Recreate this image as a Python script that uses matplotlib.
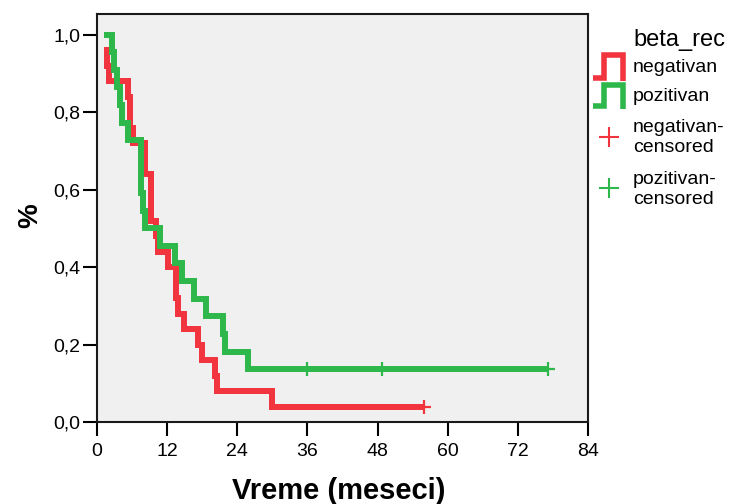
import matplotlib
matplotlib.use("Agg")
import matplotlib.pyplot as plt
from matplotlib.lines import Line2D

plt.rcParams['font.family'] = ['Liberation Sans', 'DejaVu Sans']

# Survival times in months for the two beta_rec groups
neg_events = [1.2, 1.65, 2.1, 5.35, 5.65, 5.65, 6.2, 8.2, 8.2, 9.2, 9.2, 9.2,
              10.1, 10.5, 12.2, 13.5, 13.5, 13.9, 14.9, 17.3, 17.9, 20.2, 20.5, 29.9]
neg_censored = [55.9]
pos_events = [2.6, 2.95, 3.35, 3.9, 4.2, 5.25, 7.45, 7.45, 7.45, 7.9, 8.15,
              10.8, 13.3, 14.6, 16.6, 18.6, 21.6, 21.9, 25.8]
pos_censored = [35.9, 48.8, 77.2]
start_time = 1.2

x_ticks = [0, 12, 24, 36, 48, 60, 72, 84]
y_ticks = [0.0, 0.2, 0.4, 0.6, 0.8, 1.0]
y_tick_labels = ['0,0', '0,2', '0,4', '0,6', '0,8', '1,0']
group_labels = ['negativan', 'pozitivan']
legend_title = 'beta_rec'

RED = '#F1343E'
GREEN = '#2EB84B'
W, H = 734, 504


def kaplan_meier(events, censored):
    times = sorted(set(events) | set(censored))
    at_risk = len(events) + len(censored)
    s = 1.0
    out_t, out_s = [], []
    for t in times:
        d = events.count(t)
        c = censored.count(t)
        if d:
            s *= 1 - d / at_risk
        out_t.append(t)
        out_s.append(s)
        at_risk -= d + c
    return out_t, out_s


def curve(events, censored, t0):
    ts, ss = kaplan_meier(events, censored)
    s0 = 1.0
    for t, s in zip(ts, ss):
        if t <= t0:
            s0 = s
    x = [t0] + [t for t in ts if t > t0]
    y = [s0] + [s for t, s in zip(ts, ss) if t > t0]
    cx = [t for t in censored]
    cy = [ss[ts.index(t)] for t in censored]
    return x, y, cx, cy


fig = plt.figure(figsize=(W / 100, H / 100), dpi=100)
ax = fig.add_axes([97 / W, 1 - 422 / H, (588 - 97) / W, (422 - 14) / H])
ax.set_facecolor('#F0F0F0')

for events, censored, color in [(neg_events, neg_censored, RED),
                                (pos_events, pos_censored, GREEN)]:
    x, y, cx, cy = curve(events, censored, start_time)
    ax.plot(x, y, drawstyle='steps-post', color=color, lw=4.3,
            solid_joinstyle='miter', solid_capstyle='butt', zorder=3)
    ax.plot(cx, cy, ls='none', marker='+', ms=10, mew=1.6, color=color, zorder=4)

ax.set_xlim(0, 84)
ax.set_ylim(0, 1.053)
ax.set_xticks(x_ticks)
ax.set_xticklabels([str(v) for v in x_ticks])
ax.set_yticks(y_ticks)
ax.set_yticklabels(y_tick_labels)
ax.tick_params(direction='out', length=10, width=1.5, labelsize=14, color='black')
ax.tick_params(axis='y', pad=2)
ax.tick_params(axis='x', pad=5)
for sp in ax.spines.values():
    sp.set_linewidth(1.5)
    sp.set_color('#1a1a1a')

fig.text(339 / W, 1 - 491 / H, 'Vreme (meseci)', fontsize=21, fontweight='bold',
         ha='center', va='center')
fig.text(30 / W, 1 - 216 / H, '%', fontsize=20, fontweight='bold',
         ha='center', va='center', rotation=90)


# Legend drawn in figure pixel space
def fx(px):
    return px / W


def fy(py):
    return 1 - py / H


fig.text(fx(633), fy(40), legend_title, fontsize=17, ha='left', va='center')
for (label, color, top, bottom) in [(group_labels[0], RED, 55, 78),
                                    (group_labels[1], GREEN, 85, 106)]:
    xs = [593, 603.5, 603.5, 622.5, 622.5]
    ys = [bottom, bottom, top, top, bottom + 3]
    fig.add_artist(Line2D([fx(v) for v in xs], [fy(v) for v in ys],
                          transform=fig.transFigure, color=color, lw=4,
                          solid_joinstyle='miter', solid_capstyle='butt'))
    fig.text(fx(633), fy((top + bottom) / 2 + 1), label, fontsize=14,
             ha='left', va='center')

for (label, color, yc, y1, y2) in [(group_labels[0], RED, 137, 127, 147),
                                   (group_labels[1], GREEN, 188, 179, 200)]:
    fig.add_artist(Line2D([fx(609)], [fy(yc)], transform=fig.transFigure,
                          ls='none', marker='+', ms=14, mew=1.5, color=color))
    fig.text(fx(633), fy(y1), label + '-', fontsize=14, ha='left', va='center')
    fig.text(fx(633), fy(y2), 'censored', fontsize=14, ha='left', va='center')

fig.savefig('out.png', dpi=100, facecolor='white')
